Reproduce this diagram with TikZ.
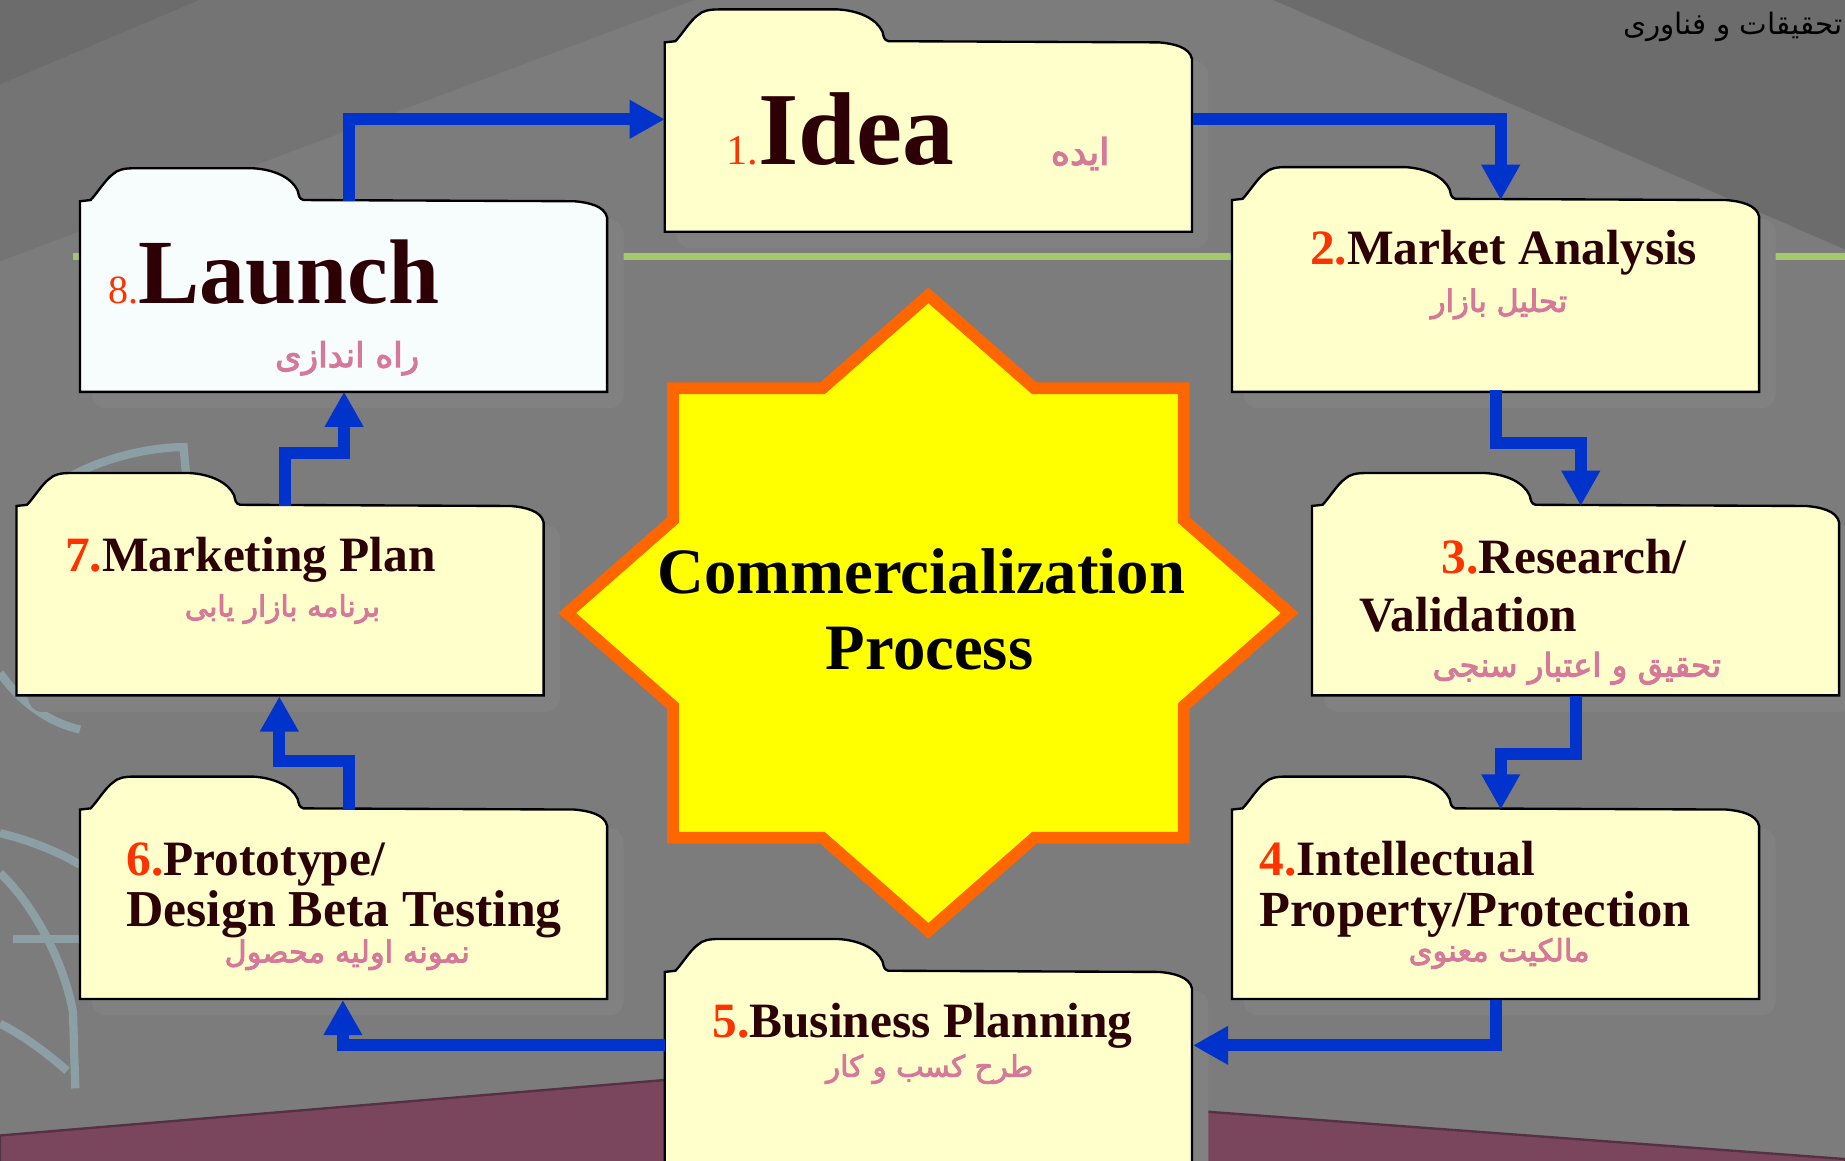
\documentclass[tikz,border=0pt]{standalone}
\usepackage{fontspec}
\setmainfont{Liberation Serif}
\newfontfamily\fa[Script=Arabic,FakeBold=3]{DejaVu Sans}
\newfontfamily\faplain[Script=Arabic]{DejaVu Sans}
\TeXXeTstate=1
\usetikzlibrary{arrows.meta}

\definecolor{bggray}{HTML}{7C7C7C}
\definecolor{bgmid}{HTML}{747474}
\definecolor{bgdark}{HTML}{6C6C6C}
\definecolor{shadegray}{HTML}{818181}
\definecolor{leafgray}{HTML}{8C9FA4}
\definecolor{floorred}{HTML}{7A465E}
\definecolor{lawngreen}{HTML}{A2C96A}
\definecolor{folderfill}{HTML}{FFFFCC}
\definecolor{launchfill}{HTML}{F7FCFD}
\definecolor{titlered}{HTML}{2D0006}
\definecolor{numred}{HTML}{FF3300}
\definecolor{farsipink}{HTML}{D6789A}
\definecolor{arrowblue}{HTML}{0033CC}
\definecolor{staryellow}{HTML}{FFFF00}
\definecolor{starorange}{HTML}{FF6600}

\newcommand{\nm}[1]{{\color{numred}#1}}
\newcommand{\fatxt}[1]{{\fa\beginR #1\endR}}
% folder: name, left, top, height, fill
\newcommand{\folder}[5]{%
  \fill[shadegray, rounded corners=6pt] (#2+10,#3+16) rectangle (#2+462,#3+#4+14);
  \begin{scope}[shift={(#2,#3)}]
    \draw[line width=1pt, fill=#5] (0,#4) -- (0,0) -- (9,-1)
      .. controls (14,-6) and (22,-19) .. (28,-23)
      .. controls (32,-27) and (38,-28) .. (46,-28) -- (147,-28)
      .. controls (165,-27) and (180,-20) .. (185,-9)
      .. controls (186,-5) and (186,-2) .. (190,-1) -- (420,0)
      .. controls (432,1) and (446,4) .. (448,14) -- (448,#4) -- cycle;
    \node[inner sep=0pt, minimum width=224pt, minimum height=80.5pt, anchor=north west] (#1) at (0,0) {};
  \end{scope}
}

\tikzset{
  title/.style={font=\fontsize{21}{25}\selectfont\bfseries, text=titlered, inner sep=0pt, anchor=base west},
  farsi/.style={font=\fontsize{13}{16}\selectfont, text=farsipink, inner sep=0pt, anchor=base},
  flow/.style={draw=arrowblue, line width=5pt, -{Triangle[length=15pt,width=15.5pt]}},
  leaf/.style={draw=leafgray, line width=3.5pt},
}

\begin{document}
\begin{tikzpicture}[x=0.5pt, y=-0.5pt]
\clip (0,0) rectangle (1568,986);
% background
\fill[bggray] (0,0) rectangle (1568,986);
\fill[bgdark] (0,0) -- (170,0) -- (0,72) -- cycle;
\fill[bgmid] (170,0) -- (590,0) -- (0,222) -- (0,72) -- cycle;
\fill[bgdark] (1082,0) -- (1568,0) -- (1568,212) -- cycle;
\fill[floorred, draw=floorred!70!black, line width=1pt] (0,965) -- (611,914) -- (1568,985) -- (1568,990) -- (0,990) -- cycle;
\draw[lawngreen, line width=3pt] (62,218) -- (1568,218);
\draw[leaf] (60,405) .. controls (90,388) and (130,380) .. (156,380) -- (158,402);
\draw[leaf] (0,572) .. controls (20,600) and (45,615) .. (68,620);
\draw[leaf] (0,708) .. controls (25,714) and (50,724) .. (68,735);
\draw[leaf] (0,742) .. controls (30,770) and (55,820) .. (62,860) -- (64,925);
\draw[leaf] (0,870) .. controls (20,880) and (40,895) .. (57,910);
\draw[leaf] (11,798) -- (68,798);
\node[font=\faplain\fontsize{12.5}{14}\selectfont, anchor=base east, inner sep=0pt] (orgname) at (1566,29) {\beginR تحقیقات و فناوری\endR};

% folders
\foreach \n/\x/\y/\h/\c in {idea/565/36/161/folderfill, market/1047/170/163/folderfill,
    research/1115/430/161/folderfill, ip/1047/688/161/folderfill,
    business/565/826/200/folderfill, proto/68/688/161/folderfill,
    mplan/14/430/161/folderfill, launch/68/171/162/launchfill}
  \folder{\n}{\x}{\y}{\h}{\c};

% star
\filldraw[fill=staryellow, draw=starorange, line width=5pt, line join=miter]
  (789,251) -- (879,330) -- (1006,330) -- (1006,442) -- (1096,521) -- (1006,600)
  -- (1006,712) -- (879,712) -- (789,791) -- (699,712) -- (572,712) -- (572,600)
  -- (482,521) -- (572,442) -- (572,330) -- (699,330) -- cycle;
\node[font=\fontsize{27.5}{30}\selectfont\bfseries, anchor=base, inner sep=0pt] (starA) at (783,504) {Commercialization};
\node[font=\fontsize{27.5}{30}\selectfont\bfseries, anchor=base, inner sep=0pt] (starB) at (790,569) {Process};

% titles
\node[title, font=\fontsize{18}{20}\selectfont] (ideaT) at (617,140) {\nm{1.}\fontsize{44}{50}\selectfont\bfseries Idea};
\node[farsi, font=\fontsize{15.5}{18}\selectfont] (ideaF) at (918,140) {\fatxt{ایده}};
\node[title] (marketT) at (1113,225) {\nm{2.}Market Analysis};
\node[farsi] (marketF) at (1274,265) {\fatxt{تحلیل بازار}};
\node[title] (researchT) at (1225,487) {\nm{3.}Research/};
\node[title] (researchT2) at (1155,537) {Validation};
\node[farsi, font=\fontsize{13.8}{16}\selectfont] (researchF) at (1340,575) {\fatxt{تحقیق و اعتبار سنجی}};
\node[title] (ipT) at (1070,744) {\nm{4.}Intellectual};
\node[title, font=\fontsize{21.5}{25}\selectfont\bfseries] (ipT2) at (1070,787) {Property/Protection};
\node[farsi] (ipF) at (1274,817) {\fatxt{مالکیت معنوی}};
\node[title] (businessT) at (605,882) {\nm{5.}Business Planning};
\node[farsi, font=\fontsize{12.5}{15}\selectfont] (businessF) at (790,915) {\fatxt{طرح کسب و کار}};
\node[title] (protoT) at (107,744) {\nm{6.}Prototype/};
\node[title, font=\fontsize{22}{25}\selectfont\bfseries] (protoT2) at (107,787) {Design Beta Testing};
\node[farsi] (protoF) at (295,818) {\fatxt{نمونه اولیه محصول}};
\node[title] (mplanT) at (55,486) {\nm{7.}Marketing Plan};
\node[farsi, font=\fontsize{12.5}{15}\selectfont] (mplanF) at (240,524) {\fatxt{برنامه بازار یابی}};
\node[title, font=\fontsize{17}{20}\selectfont] (launchT) at (92,258) {\nm{8.}\fontsize{39}{45}\selectfont\bfseries Launch};
\node[farsi, font=\fontsize{14.5}{17}\selectfont] (launchF) at (295,312) {\fatxt{راه اندازی}};

% flow
\draw[flow] ([xshift=2pt]launch.north) |- ([yshift=7.75pt]idea.west);
\draw[flow] ([yshift=7.75pt]idea.east) -| ([xshift=2pt]market.north);
\draw[flow] (market.south) -- ++(0,-22.5pt) -| ([xshift=2pt]research.north);
\draw[flow] (research.south) -- ++(0,-24.5pt) -| ([xshift=2pt]ip.north);
\draw[flow] (ip.south) |- ([yshift=9.25pt]business.east);
\draw[flow] ([yshift=9.25pt]business.west) -| ([xshift=-0.5pt]proto.south);
\draw[flow] ([xshift=2pt]proto.north) -- ++(0,20.5pt) -| ([xshift=-0.5pt]mplan.south);
\draw[flow] ([xshift=2pt]mplan.north) -- ++(0,22.5pt) -| (launch.south);
\end{tikzpicture}
\end{document}
